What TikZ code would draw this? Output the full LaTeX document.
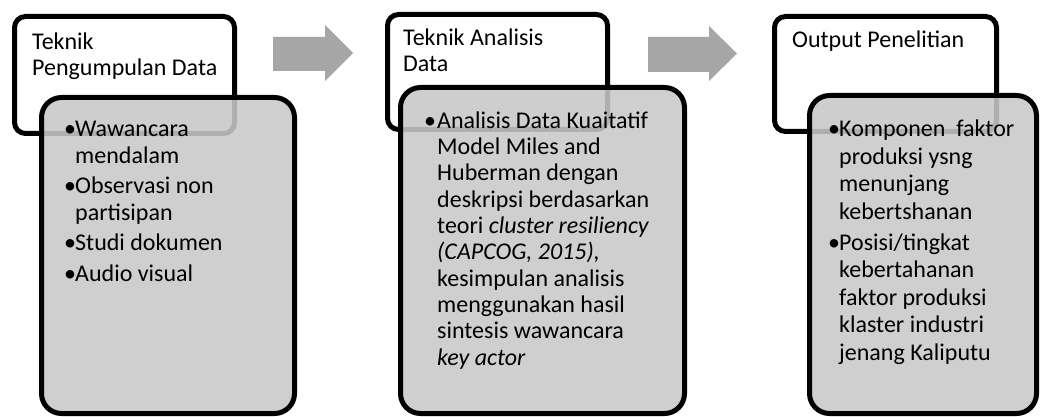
\documentclass[tikz,border=0pt]{standalone}
\usepackage{fontspec}
\setmainfont{Carlito}
\usepackage{tikz}
\definecolor{arrowgray}{RGB}{166,166,166}
\definecolor{boxgray}{RGB}{200,200,200}
\newcommand{\blt}[1][11pt]{\llap{\makebox[#1][l]{•}}}

\begin{document}
\begin{tikzpicture}[x=1pt, y=-1pt, font=\fontsize{24}{27}\selectfont,
    headbox/.style={draw, line width=5pt, rounded corners=11pt, fill=white},
    bodybox/.style={draw, line width=5pt, rounded corners=20pt, fill=boxgray, fill opacity=0.88},
    boxtext/.style={anchor=base west, inner sep=0pt, align=left},
    headtext/.style={boxtext, font=\fontsize{24}{26}\selectfont},
    flowarrow/.style={fill=arrowgray}]
    \useasboundingbox (0, 0) rectangle (1041, 417);

    \node (collect) [headbox, minimum width=220pt, minimum height=117pt] at (124.5, 75) {};
    \node (collectbody) [bodybox, minimum width=253pt, minimum height=316pt] at (168, 255.5) {};
    \node (analysis) [headbox, minimum width=220pt, minimum height=115pt] at (497.5, 72) {};
    \node (analysisbody) [bodybox, minimum width=284pt, minimum height=326pt] at (542.5, 250.5) {};
    \node (output) [headbox, minimum width=222pt, minimum height=115pt] at (885.5, 74) {};
    \node (outputbody) [bodybox, minimum width=227pt, minimum height=318pt] at (923, 254.5) {};

    % base of each text is its last line
    \node (collecttitle) [headtext] at (32, 76) {Teknik\\Pengumpulan Data};
    \node (analysistitle) [headtext] at (403, 72) {Teknik Analisis\\Data};
    \node (outputtitle) [headtext] at (792, 48) {Output Penelitian};

    \node (collectlist) [boxtext] at (75, 281) {\blt Wawancara\\mendalam\\[3pt]
        \blt Observasi non\\partisipan\\[3pt]
        \blt Studi dokumen\\[4pt]
        \blt Audio visual};
    \node (analysislist) [boxtext, font=\fontsize{24}{26.3}\selectfont] at (437, 365) {\blt[13pt]Analisis Data Kuaitatif\\
        Model Miles and\\Huberman dengan\\deskripsi berdasarkan\\
        teori \textit{cluster resiliency}\\\textit{(CAPCOG, 2015),}\\
        kesimpulan analisis\\menggunakan hasil\\sintesis wawancara\\\textit{key actor}};
    \node (outputlist) [boxtext, font=\fontsize{24}{27.4}\selectfont] at (839, 360) {\blt Komponen~ faktor\\produksi ysng\\menunjang\\kebertshanan\\[4pt]
        \blt Posisi/tingkat\\kebertahanan\\faktor produksi\\klaster industri\\jenang Kaliputu};

    % arrows between the steps
    \fill[flowarrow] (273, 37) -- (325, 37) -- (325, 25) -- (353, 53) -- (325, 81) -- (325, 71) -- (273, 71) -- cycle;
    \fill[flowarrow] (648, 37) -- (709, 37) -- (709, 26) -- (737, 53.5) -- (709, 81) -- (709, 72) -- (648, 72) -- cycle;
\end{tikzpicture}
\end{document}
